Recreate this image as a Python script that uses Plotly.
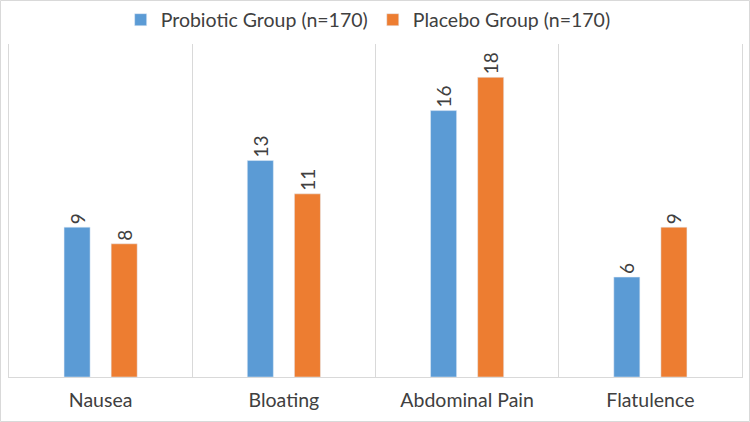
import plotly.graph_objects as go

categories = ["Nausea", "Bloating", "Abdominal Pain", "Flatulence"]
probiotic = [9, 13, 16, 6]
placebo = [8, 11, 18, 9]
series_names = ["Probiotic Group (n=170)", "Placebo Group (n=170)"]

W, H = 750, 422
ml, mr, mt, mb = 9, 8, 44, 45
pw, ph = W - ml - mr, H - mt - mb

fig = go.Figure()
for name, vals, col in [(series_names[0], probiotic, "#5B9BD5"), (series_names[1], placebo, "#ED7D31")]:
    fig.add_trace(go.Bar(
        x=categories, y=vals, name=name, marker_color=col,
        text=[str(v) for v in vals], textposition="outside", textangle=-90,
        textfont=dict(size=19, color="#404040", family="Lato"),
        cliponaxis=False,
    ))

fig.update_layout(
    width=W, height=H,
    margin=dict(l=ml, r=mr, t=mt, b=mb, autoexpand=False),
    paper_bgcolor="white", plot_bgcolor="white",
    barmode="group", bargap=0.486, bargroupgap=0.447,
    font=dict(family="Lato", color="#404040"),
    legend=dict(orientation="h", x=0.49, xanchor="center", y=1 + 24/ph, yanchor="middle",
                bgcolor="rgba(0,0,0,0)",
                font=dict(size=19.5, color="#404040"), itemwidth=30, traceorder="normal"),
    xaxis=dict(showgrid=True, gridcolor="#D9D9D9", tickson="boundaries", ticks="",
               showline=True, linecolor="#D9D9D9", tickfont=dict(size=19.5, color="#404040"),
               ticklabelstandoff=6, automargin=False),
    yaxis=dict(range=[0, 20], showgrid=False, showticklabels=False, zeroline=False,
               showline=True, mirror=True, linecolor="#D9D9D9", automargin=False),
    shapes=[dict(type="rect", xref="paper", yref="paper",
                 x0=(0.5 - ml)/pw, x1=(W - 0.5 - ml)/pw,
                 y0=-(mb - 0.5)/ph, y1=1 + (mt - 0.5)/ph,
                 line=dict(color="#D9D9D9", width=1))],
)

fig.write_html("out.html", config={"displayModeBar": False},
               post_script="document.body.style.margin='0';document.body.style.padding='0';")
